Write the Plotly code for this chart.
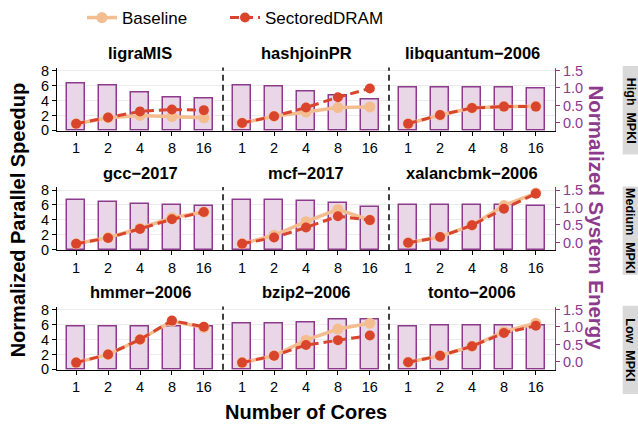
import plotly.graph_objects as go

# ---------------- data ----------------
cores = ["1", "2", "4", "8", "16"]
workloads = ["ligraMIS", "hashjoinPR", "libquantum−2006",
             "gcc−2017", "mcf−2017", "xalancbmk−2006",
             "hmmer−2006", "bzip2−2006", "tonto−2006"]
mpki_groups = ["High  MPKI", "Medium  MPKI", "Low  MPKI"]

baseline_speedup = [
    [0.90, 1.70, 2.00, 1.85, 1.68],
    [1.00, 1.90, 2.45, 3.05, 3.14],
    [0.90, 2.05, 3.00, 3.20, 3.22],
    [0.82, 1.65, 2.90, 4.30, 5.06],
    [0.85, 1.95, 3.77, 5.40, 3.98],
    [0.95, 1.73, 3.30, 5.93, 7.60],
    [0.91, 2.00, 4.00, 6.43, 5.60],
    [0.91, 1.83, 3.91, 5.39, 6.17],
    [0.96, 1.83, 3.09, 5.04, 6.17],
]
sectored_speedup = [
    [0.90, 1.72, 2.54, 2.80, 2.71],
    [0.99, 1.89, 3.05, 4.43, 5.60],
    [0.90, 2.06, 3.00, 3.18, 3.18],
    [0.82, 1.60, 2.81, 4.10, 5.06],
    [0.82, 1.65, 2.99, 4.50, 3.98],
    [0.95, 1.73, 3.29, 5.50, 7.52],
    [0.91, 2.00, 4.00, 6.52, 5.70],
    [0.91, 1.83, 3.26, 3.91, 4.52],
    [0.96, 1.83, 3.09, 4.87, 5.83],
]
system_energy = [
    [1.13, 1.08, 0.86, 0.735, 0.685],
    [1.06, 1.03, 0.90, 0.78, 0.67],
    [1.01, 1.01, 1.01, 1.00, 0.98],
    [1.20, 1.15, 1.10, 1.075, 1.03],
    [1.22, 1.21, 1.18, 1.14, 1.02],
    [1.06, 1.06, 1.06, 1.06, 1.04],
    [1.02, 1.02, 1.02, 1.02, 1.02],
    [1.09, 1.09, 1.13, 1.21, 1.21],
    [1.02, 1.04, 1.04, 1.04, 1.04],
]
speed_ticks = [0, 2, 4, 6, 8]
energy_ticks = [0.0, 0.5, 1.0, 1.5]

# ---------------- style ----------------
W, H = 638, 433
FONT = "Liberation Sans, Arial, sans-serif"
PURPLE = "#8C3A8B"
BAR_FILL = "#E9D7E7"
C_BASE = "#F3BD90"
C_SECT = "#D9452C"
GRID = "#EBEBEB"

SEC_OFF, SEC_K = 1.0, 14.0 / 3.0   # speedup = 1 + k * energy
S_RANGE = [-0.05, 8.4]
E_RANGE = [(S_RANGE[0] - SEC_OFF) / SEC_K, (S_RANGE[1] - SEC_OFF) / SEC_K]
E_BASE = (0 - SEC_OFF) / SEC_K

col_px = [(57, 223), (223, 389), (389, 555)]
zero_px = [129.3, 252.5, 375.7]
unit_px = 7.72


def px(x):
    return x / W


def py(y):
    return 1 - y / H


def row_px(r):
    z = zero_px[r]
    return z - S_RANGE[1] * unit_px, z - S_RANGE[0] * unit_px  # top, bottom


fig = go.Figure()
legend_common = dict(orientation="h", yanchor="middle", xanchor="left",
                     font=dict(size=17, family=FONT), bgcolor="rgba(0,0,0,0)",
                     itemwidth=30)
layout = dict(
    width=W, height=H, autosize=False,
    margin=dict(l=0, r=0, t=0, b=0),
    paper_bgcolor="white", plot_bgcolor="white",
    font=dict(family=FONT, color="black"),
    showlegend=True,
    legend=dict(x=px(82), y=py(13), **legend_common),
    legend2=dict(x=px(225), y=py(13), **legend_common),
    bargap=0,
)
shapes = []
annotations = []

for i, name in enumerate(workloads):
    r, c = divmod(i, 3)
    n = i + 1
    xa = "x" if n == 1 else f"x{n}"
    ya = "y" if n == 1 else f"y{n}"
    ys = f"y{9 + n}"
    top, bot = row_px(r)
    x0, x1 = col_px[c]
    xdom = [px(x0), px(x1)]
    ydom = [py(bot), py(top)]

    # bars: energy on primary axis (drawn beneath the lines)
    e = system_energy[i]
    fig.add_trace(go.Bar(
        x=cores, y=[v - E_BASE for v in e], base=E_BASE, width=0.55,
        marker=dict(color=BAR_FILL, line=dict(color=PURPLE, width=1.5)),
        xaxis=xa, yaxis=ya, showlegend=False, name="Energy"))
    fig.add_trace(go.Scatter(
        x=cores, y=baseline_speedup[i], mode="lines+markers", name="Baseline",
        line=dict(color=C_BASE, width=3.5), marker=dict(color=C_BASE, size=11),
        xaxis=xa, yaxis=ys, legend="legend", legendgroup="b", showlegend=(i == 0)))
    fig.add_trace(go.Scatter(
        x=cores, y=sectored_speedup[i], mode="lines+markers", name="SectoredDRAM",
        line=dict(color=C_SECT, width=3, dash="9px,5px"), marker=dict(color=C_SECT, size=10),
        xaxis=xa, yaxis=ys, legend="legend2", legendgroup="s", showlegend=(i == 0)))

    layout["xaxis" if n == 1 else f"xaxis{n}"] = dict(
        domain=xdom, anchor=ya, type="category", categoryorder="array",
        categoryarray=cores, range=[-0.6, 4.6], showgrid=False, zeroline=False,
        showline=True, linecolor="black", linewidth=1,
        ticks="outside", ticklen=4, tickcolor="black", tickwidth=1,
        tickfont=dict(size=14.5, color="black"), fixedrange=True)

    ecfg = dict(domain=ydom, anchor=xa, range=E_RANGE, side="right",
                showgrid=False, zeroline=False, fixedrange=True)
    if c == 2:
        ecfg.update(showline=True, linecolor=PURPLE, linewidth=1.2,
                    ticks="outside", ticklen=4, tickcolor=PURPLE, tickwidth=1.2,
                    tickvals=energy_ticks, ticktext=[f"{t:.1f}" for t in energy_ticks],
                    tickfont=dict(size=14.5, color=PURPLE))
    else:
        ecfg.update(showline=False, showticklabels=False, ticks="")
    layout["yaxis" if n == 1 else f"yaxis{n}"] = ecfg

    scfg = dict(anchor=xa, overlaying=ya, range=S_RANGE, side="left",
                tickvals=speed_ticks, showgrid=True, gridcolor=GRID, gridwidth=1,
                zeroline=False, fixedrange=True)
    if c == 0:
        scfg.update(showline=True, linecolor="black", linewidth=1,
                    ticks="outside", ticklen=4, tickcolor="black", tickwidth=1,
                    tickfont=dict(size=14.5, color="black"))
    else:
        scfg.update(showline=False, showticklabels=False, ticks="")
    layout[f"yaxis{9 + n}"] = scfg

    # panel title
    annotations.append(dict(text=f"<b>{name}</b>", x=px((x0 + x1) / 2), y=py(top - 14.5),
                            xref="paper", yref="paper", showarrow=False,
                            xanchor="center", yanchor="middle",
                            font=dict(size=16.5, color="black", family=FONT)))

# dashed separators between panels
for r in range(3):
    top, bot = row_px(r)
    for xs in (223, 389):
        shapes.append(dict(type="line", xref="paper", yref="paper",
                           x0=px(xs), x1=px(xs), y0=py(bot), y1=py(top),
                           line=dict(color="black", width=1.5, dash="6px,4px")))

# right-hand row strips
strip_px = [(63, 154), (187, 278), (310, 401)]
for r, lab in enumerate(mpki_groups):
    s0, s1 = strip_px[r]
    shapes.append(dict(type="rect", xref="paper", yref="paper",
                       x0=px(622.7), x1=px(640), y0=py(s1), y1=py(s0),
                       fillcolor="#D9D9D9", line=dict(width=0), layer="below"))
    annotations.append(dict(text=f"<b>{lab}</b>", x=px(630.5), y=py((s0 + s1) / 2),
                            xref="paper", yref="paper", showarrow=False, textangle=90,
                            xanchor="center", yanchor="middle",
                            font=dict(size=12.5, color="black", family=FONT)))

# axis titles
annotations.append(dict(text="<b>Number of Cores</b>", x=px(306), y=py(420),
                        xref="paper", yref="paper", showarrow=False,
                        xanchor="center", yanchor="middle",
                        font=dict(size=20, color="black", family=FONT)))
annotations.append(dict(text="<b>Normalized Parallel Speedup</b>", x=px(18), y=py(222),
                        xref="paper", yref="paper", showarrow=False, textangle=-90,
                        xanchor="center", yanchor="middle",
                        font=dict(size=20, color="black", family=FONT)))
annotations.append(dict(text="<b>Normalized System Energy</b>", x=px(597), y=py(219),
                        xref="paper", yref="paper", showarrow=False, textangle=90,
                        xanchor="center", yanchor="middle",
                        font=dict(size=20.5, color=PURPLE, family=FONT)))

layout["shapes"] = shapes
layout["annotations"] = annotations
fig.update_layout(**layout)
fig.write_html("out.html")
